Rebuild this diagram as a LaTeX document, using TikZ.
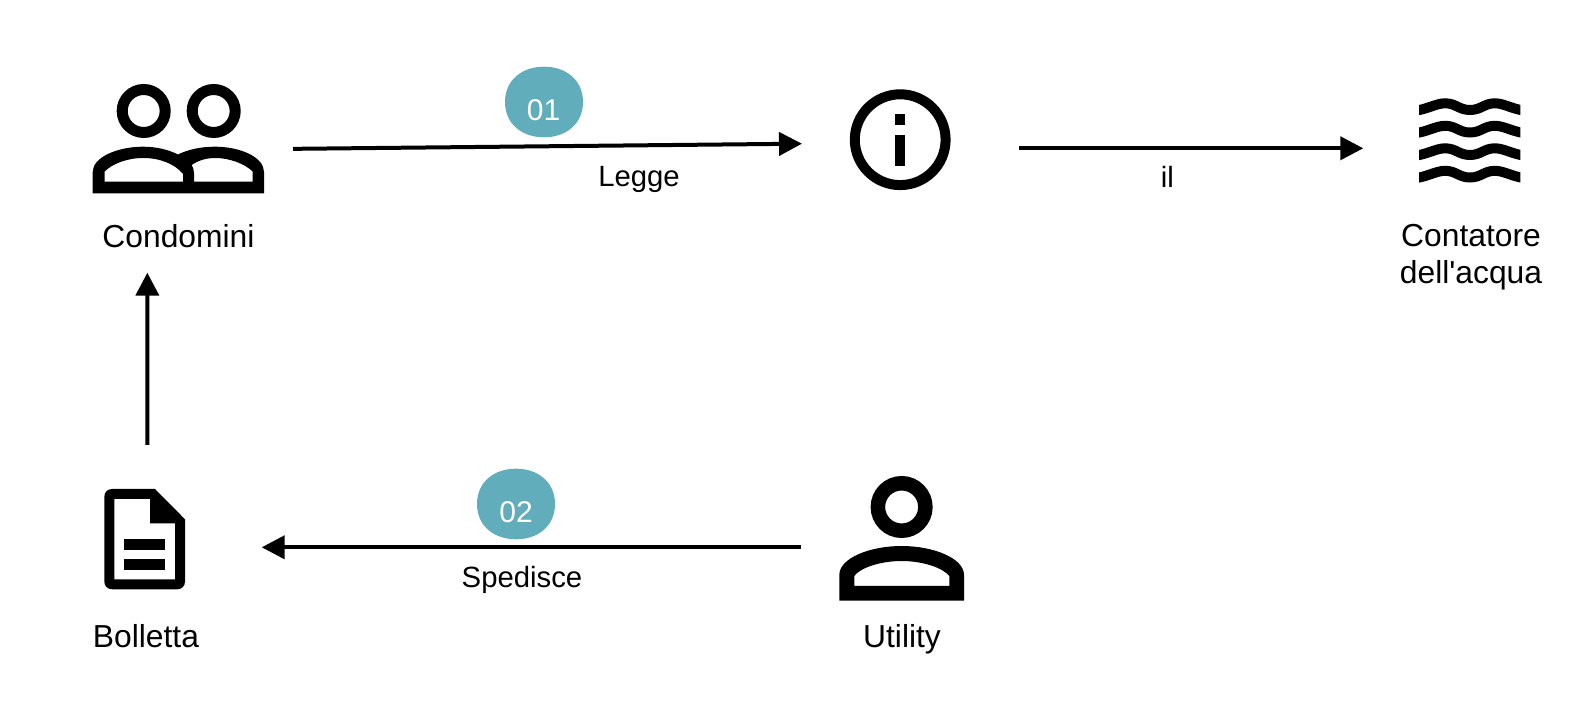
\documentclass[tikz,border=0pt]{standalone}
\usepackage{fontspec}
\setmainfont{Liberation Sans}
\newfontfamily\plainsans{Liberation Sans}
\usetikzlibrary{arrows.meta}
\definecolor{blobteal}{HTML}{62ADBB}
\tikzset{
  conn/.style={line width=2pt,draw=black,-{Triangle[length=11.5pt,width=11.5pt,inset=0pt]}},
  ink/.style={fill=black,even odd rule,draw=none},
  iconbox/.style={inner sep=0pt,outer sep=0pt,draw=none,fill=none},
  biglabel/.style={inner sep=0pt,outer sep=0pt,anchor=base,font=\fontsize{15.9}{18.7}\selectfont,align=center},
  edgelabel/.style={inner sep=0pt,outer sep=0pt,anchor=base,font=\fontsize{14.65}{17}\selectfont},
  numlabel/.style={inner sep=0pt,outer sep=0pt,anchor=base,text=white,font=\fontsize{15}{17}\selectfont},
  blob/.style={fill=blobteal,draw=none}
}
\newcommand{\blobat}[2]{%
  \fill[blob] (#1-39,#2) .. controls (#1-39,#2-22) and (#1-22,#2-35.3) .. (#1,#2-35.3)
    .. controls (#1+22,#2-35.3) and (#1+39,#2-22) .. (#1+39,#2)
    .. controls (#1+39,#2+22) and (#1+22,#2+35.3) .. (#1,#2+35.3)
    .. controls (#1-22,#2+35.3) and (#1-39,#2+22) .. (#1-39,#2) -- cycle;}
\begin{document}
\begin{tikzpicture}[x=0.5pt,y=-0.5pt]
\useasboundingbox (0,0) rectangle (1580,704);
\fill[white] (0,0) rectangle (1580,704);

% icon anchors
\node[iconbox,minimum width=85.65pt,minimum height=54.65pt] (condo) at (178.35,138.65) {};
\node[iconbox,minimum width=50.5pt,minimum height=50.5pt] (info) at (900.2,139.7) {};
\node[iconbox,minimum width=50.65pt,minimum height=41.85pt] (water) at (1469.65,140.2) {};
\node[iconbox,minimum width=40.35pt,minimum height=50.15pt] (bill) at (144.65,539.15) {};
\node[iconbox,minimum width=62.35pt,minimum height=62.5pt] (util) at (901.65,538.2) {};

% Condomini icon
\draw[line width=5.5pt] (143.7,111) circle (21.5);
\draw[line width=5.5pt] (213.7,111) circle (21.5);
\fill[ink]
  (92.7,193.3) -- (92.7,172) .. controls (92.7,157) and (118,146.7) .. (143,146.7) .. controls (156,146.7) and (168,149.5) .. (178,154.5)
  .. controls (188,149.5) and (201,146.7) .. (215,146.7) .. controls (240,146.7) and (264,157) .. (264,172) -- (264,193.3) -- cycle
  (104.7,181.7) -- (104.7,171.5) .. controls (112,164) and (127,158) .. (143,158) .. controls (160,158) and (175,164) .. (183,174) -- (183,181.7) -- cycle
  (194,181.7) -- (194,173) .. controls (194,170) and (193,167) .. (191.7,165) .. controls (199,160) and (207,158) .. (215,158) .. controls (230,158) and (245,164) .. (252.7,171.5) -- (252.7,181.7) -- cycle;

% Info icon
\draw[line width=5pt] (900.2,139.7) circle (45.4);
\fill[black] (895,114.3) rectangle (905.3,125);
\fill[black] (895,135) rectangle (905.3,165.7);

% Water icon
\begin{scope}
\clip (1419,90) rectangle (1520.3,190);
\foreach \dy in {0,22.5,45,67.5}{
  \draw[line width=5pt] (1410,111+\dy) .. controls (1425,111+\dy) and (1435,103.3+\dy) .. (1445,103.3+\dy)
    .. controls (1456,103.3+\dy) and (1459,110+\dy) .. (1470,110+\dy)
    .. controls (1481,110+\dy) and (1484,103.3+\dy) .. (1495,103.3+\dy)
    .. controls (1505,103.3+\dy) and (1515,111+\dy) .. (1530,111+\dy);
}
\end{scope}

% Bill icon
\fill[ink]
  (155,489) -- (185,519.3) -- (185,581.3) .. controls (185,586) and (182,589.3) .. (177,589.3) -- (112.3,589.3)
  .. controls (107.5,589.3) and (104.3,586) .. (104.3,581.3) -- (104.3,497) .. controls (104.3,492) and (107.5,489) .. (112.3,489) -- cycle
  (114.3,499) -- (150,499) -- (150,523.3) -- (175,523.3) -- (175,579.3) -- (114.3,579.3) -- cycle;
\fill[black] (124.3,539.3) rectangle (164.7,550);
\fill[black] (124.3,559.3) rectangle (164.7,570);

% Utility icon
\draw[line width=7.25pt] (901.65,507) circle (23.75);
\fill[ink]
  (839.3,600.7) -- (839.3,575) .. controls (839.3,558) and (870,546) .. (901.65,546) .. controls (933,546) and (964,558) .. (964,575) -- (964,600.7) -- cycle
  (854.3,586) -- (854.3,576) .. controls (860,568) and (880,561) .. (901.65,561) .. controls (923,561) and (943,568) .. (949.3,576) -- (949.3,586) -- cycle;

% badges
\blobat{544}{102}
\blobat{516}{504}
\node[numlabel] (n1) at (543.5,121) {01};
\node[numlabel] (n2) at (516,522.3) {02};

% connectors
\draw[conn] ([shift={(29,10.2)}]condo.east) -- ([shift={(-47.7,4)}]info.west);
\draw[conn] ([shift={(68.6,8.6)}]info.east) -- ([shift={(-55.7,8.1)}]water.west);
\draw[conn] ([shift={(-38.6,9.1)}]util.west) -- ([shift={(76.7,8.15)}]bill.east);
\draw[conn] ([shift={(2.65,-44)}]bill.north) -- ([shift={(-31,79.4)}]condo.south);

% labels
\node[biglabel] (lcondo) at (178.5,247.7) {Condomini};
\node[biglabel] (lwater) at (1471,246.7) {Contatore};
\node[biglabel] (lwater2) at (1471,284) {\plainsans dell'acqua};
\node[biglabel] (lbill) at (146,648) {Bolletta};
\node[biglabel] (lutil) at (902,648) {Utility};
\node[edgelabel] (l1) at (639,187) {Legge};
\node[edgelabel] (l2) at (1167.3,187.5) {il};
\node[edgelabel] (l3) at (522,587.7) {Spedisce};
\end{tikzpicture}
\end{document}
